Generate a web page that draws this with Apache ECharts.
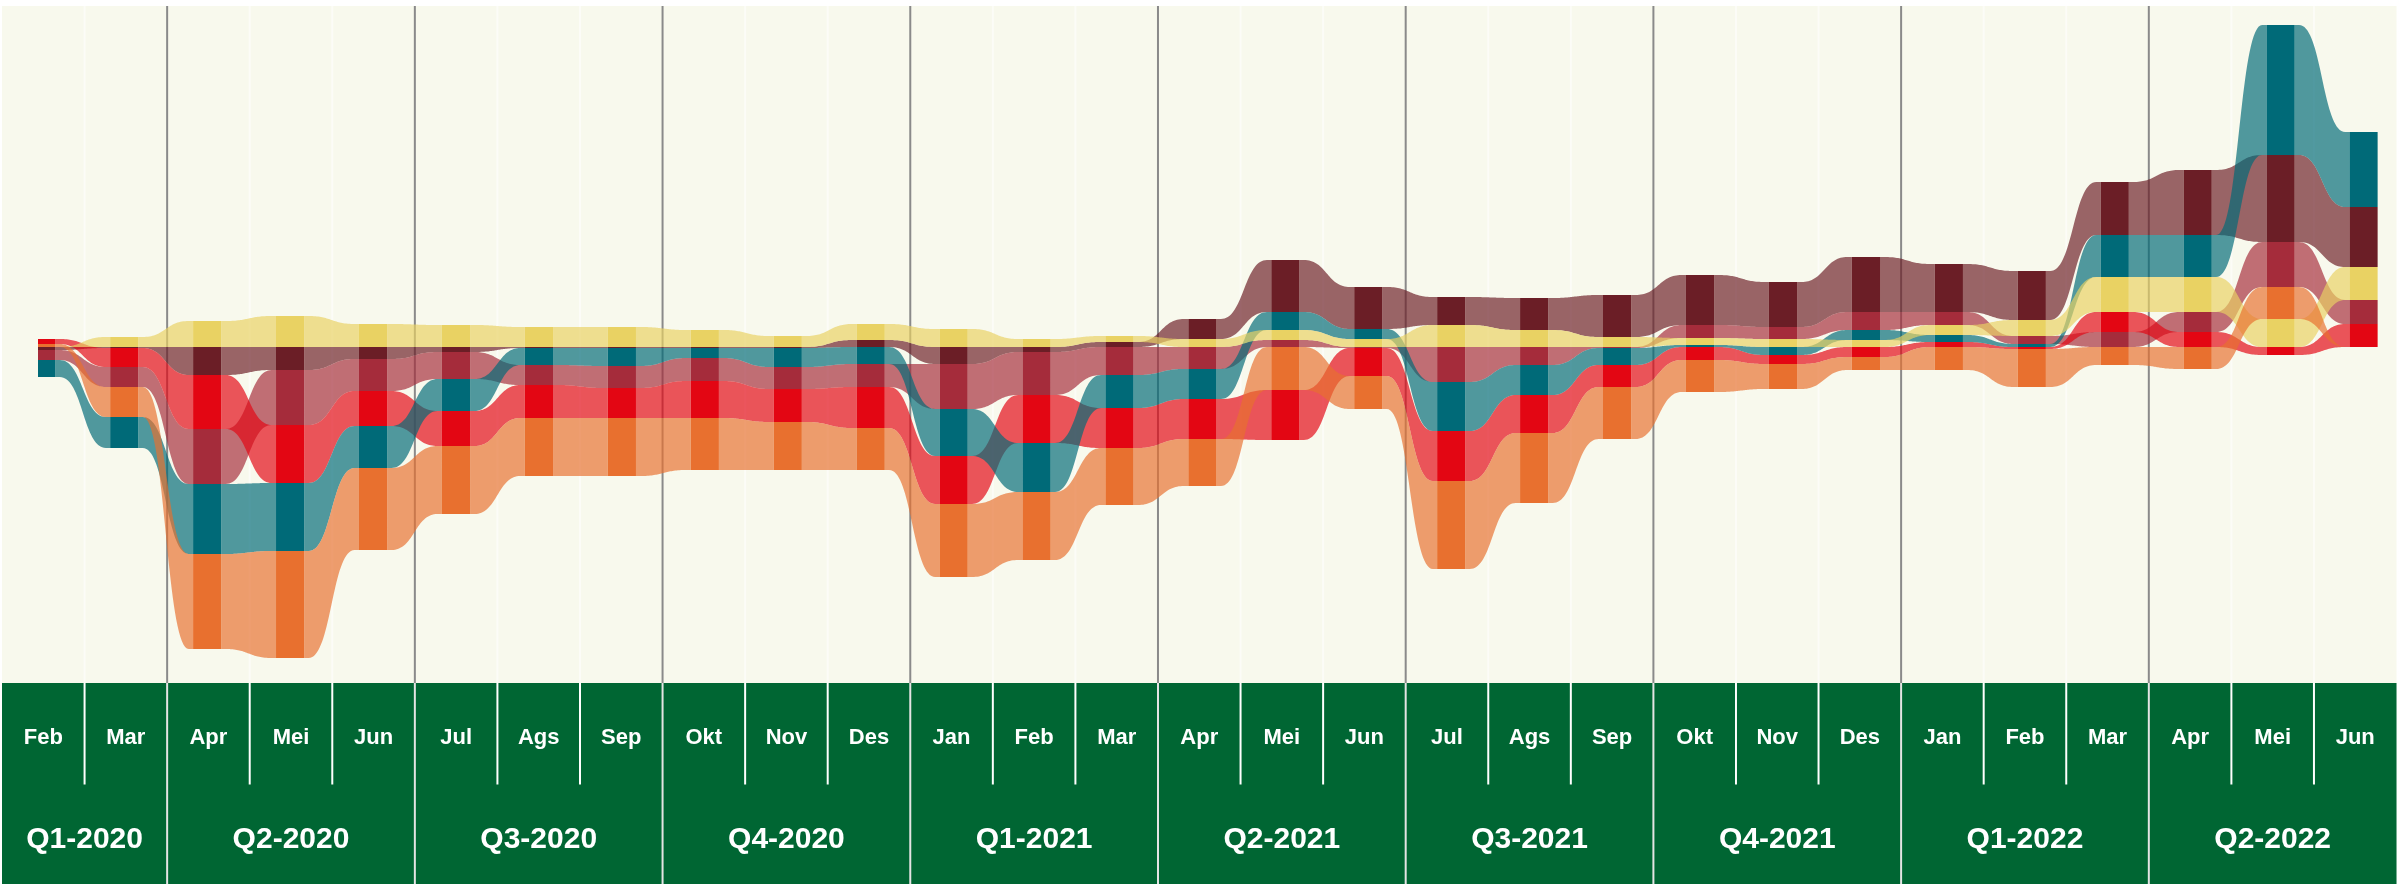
<!DOCTYPE html>
<html>
<head>
<meta charset="utf-8">
<script src="https://cdn.jsdelivr.net/npm/echarts@6/dist/echarts.min.js"></script>
<style>
html,body{margin:0;padding:0;background:#ffffff;}
#chart{width:2405px;height:884px;}
</style>
</head>
<body>
<div id="chart"></div>
<script>
// ---------------- DATA ----------------
const months = ['Feb','Mar','Apr','Mei','Jun','Jul','Ags','Sep','Okt','Nov','Des',
                'Jan','Feb','Mar','Apr','Mei','Jun','Jul','Ags','Sep','Okt','Nov','Des',
                'Jan','Feb','Mar','Apr','Mei','Jun'];
const quarterLabels = ['Q1-2020','Q2-2020','Q3-2020','Q4-2020','Q1-2021','Q2-2021','Q3-2021','Q4-2021','Q1-2022','Q2-2022'];
const quarterStarts = [0, 2, 5, 8, 11, 14, 17, 20, 23, 26];

const seriesNames = ['Komponen 1','Komponen 2','Komponen 3','Komponen 4','Komponen 5','Komponen 6'];

const maroon = [-0.3,-0.1,-2.8,-2.3,-1.2,-0.5,-0.1,-0.1,-0.1,-0.1,0.7,-1.7,-0.5,0.5,2.0,5.2,4.2,2.8,3.2,4.2,5.0,4.5,5.5,4.8,4.9,5.3,6.5,8.7,6.0];
const rose   = [-1.0,-2.0,-5.5,-5.5,-3.2,-2.7,-2.0,-2.2,-2.3,-2.2,-2.3,-4.5,-4.3,-2.8,-2.2,0.7,-0.1,-3.5,-1.8,-0.1,1.3,1.2,1.8,1.3,0.8,1.5,2.0,4.5,2.4];
const red    = [0.5,-1.9,-5.4,-5.8,-3.5,-3.5,-3.3,-3.0,-3.7,-3.3,-4.1,-4.8,-4.8,-4.0,-4.0,-5.0,-2.8,-5.0,-3.8,-2.2,-1.3,-0.9,-1.0,0.5,-0.2,2.0,1.5,-0.8,2.3];
const teal   = [-1.7,-3.1,-7.0,-6.8,-4.2,-3.2,-1.7,-1.8,-1.0,-1.9,-1.7,-4.7,-4.9,-3.3,-3.0,1.8,1.0,-4.9,-3.0,-1.7,0.2,-0.8,1.0,0.7,0.3,4.2,4.2,13.0,7.5];
const yellow = [0,1.0,2.6,3.1,2.3,2.2,2.0,2.0,1.7,1.1,1.6,1.8,0.8,0.6,0.8,1.0,0.8,2.2,1.7,1.0,0.7,0.8,0.7,1.0,1.6,3.5,3.5,2.8,3.3];
const orange = [0.3,-3.0,-9.5,-10.7,-8.2,-6.8,-5.8,-5.8,-5.2,-4.8,-4.2,-7.3,-6.8,-5.7,-4.7,-4.3,-3.3,-8.8,-7.0,-5.2,-3.2,-2.5,-1.3,-2.3,-3.8,-1.8,-2.2,3.2,0];

// ---------------- STYLE ----------------
const seriesColors = ['#6b1e26','#a52c3b','#e30613','#006a78','#e9d263','#e8702f'];
const RIBBON_ALPHA = 0.68;
const BAR_HALF = 0.17;     // half bar width, in month units
const FLAT = 0.08;         // flat share at each end of a ribbon
const STEPS = 36;
const MONTH_FONT = 'bold 22px "Liberation Sans", Arial, Helvetica, sans-serif';
const QUARTER_FONT = 'bold 30px "Liberation Sans", Arial, Helvetica, sans-serif';
const MONTH_ROW_Y = 1.453;
const QUARTER_ROW_Y = 0.44;

const valuesBySeries = [maroon, rose, red, teal, yellow, orange];
const N = months.length;

// stacking per month: positives upward (smallest nearest zero), negatives downward (smallest magnitude nearest zero)
const stackLayout = [];
for (let i = 0; i < N; i++) {
  const vals = valuesBySeries.map(a => a[i]);
  const pos = [], neg = [];
  vals.forEach((v, k) => { (v >= 0 ? pos : neg).push(k); });
  pos.sort((a, b) => vals[a] - vals[b] || a - b);
  neg.sort((a, b) => vals[b] - vals[a] || a - b);
  const band = [];
  let acc = 0;
  pos.forEach(k => { band[k] = [acc, acc + vals[k]]; acc += vals[k]; });
  acc = 0;
  neg.forEach(k => { band[k] = [acc + vals[k], acc]; acc += vals[k]; });
  stackLayout.push(band);
}

function toRgba(hex, a) {
  const n = parseInt(hex.slice(1), 16);
  return 'rgba(' + ((n >> 16) & 255) + ',' + ((n >> 8) & 255) + ',' + (n & 255) + ',' + a + ')';
}

function curve(a, b, out) {
  const dx = b[0] - a[0];
  const xs = a[0] + dx * FLAT, xe = b[0] - dx * FLAT;
  const xm = (xs + xe) / 2;
  out.push([a[0], a[1]]);
  for (let k = 0; k <= STEPS; k++) {
    const t = k / STEPS, u = 1 - t;
    const x = u*u*u*xs + 3*u*u*t*xm + 3*u*t*t*xm + t*t*t*xe;
    const y = (u*u*u + 3*u*u*t) * a[1] + (3*u*t*t + t*t*t) * b[1];
    out.push([x, y]);
  }
  out.push([b[0], b[1]]);
}

function makeRenderer(s) {
  const color = seriesColors[s];
  const ribbonFill = toRgba(color, RIBBON_ALPHA);
  return function (params, api) {
    const i = params.dataIndex;
    const band = stackLayout[i][s];
    const lo = band[0], hi = band[1];
    const children = [];
    if (i < N - 1) {
      const nb = stackLayout[i + 1][s];
      const xa = i + BAR_HALF, xb = i + 1 - BAR_HALF;
      const t0 = api.coord([xa, hi]), b0 = api.coord([xa, lo]);
      const t1 = api.coord([xb, nb[1]]), b1 = api.coord([xb, nb[0]]);
      const top = [], bottom = [];
      curve(t0, t1, top);
      curve(b0, b1, bottom);
      const pts = top.concat(bottom.reverse());
      children.push({ type: 'polygon', shape: { points: pts }, style: { fill: ribbonFill } });
    }
    if (hi - lo > 0) {
      const p = api.coord([i - BAR_HALF, hi]), q = api.coord([i + BAR_HALF, lo]);
      children.push({ type: 'rect', shape: { x: p[0], y: p[1], width: q[0] - p[0], height: q[1] - p[1] }, style: { fill: color } });
    }
    return { type: 'group', children: children };
  };
}

const dataSeries = valuesBySeries.map((vals, s) => ({
  type: 'custom',
  name: seriesNames[s],
  xAxisIndex: 2, yAxisIndex: 2,
  clip: true,
  z: 3,
  silent: true,
  data: vals.map((v, i) => [i, v]),
  encode: { x: 0, y: 1 },
  renderItem: makeRenderer(s)
}));

const monthBoundaries = months.slice(1).map((_, i) => i + 1);

const TABLE_W = 29 * 82.57;
const PLOT_W = 28.54 * 83.09;

const option = {
  backgroundColor: '#ffffff',
  animation: false,
  grid: [
    { left: 2, top: 6, width: TABLE_W, height: 677, show: true, backgroundColor: '#f8f9ed', borderWidth: 0 },
    { left: 2, top: 683, width: TABLE_W, height: 201, show: true, backgroundColor: '#006633', borderWidth: 0 },
    { left: 38, top: 6, width: PLOT_W, height: 677, show: false }
  ],
  xAxis: [
    { gridIndex: 0, type: 'value', min: 0, max: 29, show: false },
    { gridIndex: 1, type: 'value', min: 0, max: 29, show: false },
    { gridIndex: 2, type: 'value', min: -0.04, max: 28.5, show: false }
  ],
  yAxis: [
    { gridIndex: 0, type: 'value', min: 0, max: 1, show: false },
    { gridIndex: 1, type: 'value', min: 0, max: 2, show: false },
    { gridIndex: 2, type: 'value', min: -33.6, max: 34.1, show: false }
  ],
  series: [
    {
      type: 'custom', name: 'grid-lines', xAxisIndex: 0, yAxisIndex: 0, z: 1, silent: true,
      data: monthBoundaries.map(k => [k, 0]), encode: { x: 0, y: 1 },
      renderItem: function (params, api) {
        const k = monthBoundaries[params.dataIndex];
        const x = api.coord([k, 0])[0];
        const cs = params.coordSys;
        const isQ = quarterStarts.indexOf(k) >= 0;
        return { type: 'line', shape: { x1: x, y1: cs.y, x2: x, y2: cs.y + cs.height },
                 style: { stroke: isQ ? '#8a8a8a' : 'rgba(255,255,255,0.55)', lineWidth: 2 } };
      }
    },
    {
      type: 'custom', name: 'months', xAxisIndex: 1, yAxisIndex: 1, z: 2, silent: true,
      data: months.map((m, i) => [i, MONTH_ROW_Y]), encode: { x: 0, y: 1 },
      renderItem: function (params, api) {
        const i = params.dataIndex;
        const c = api.coord([i + 0.5, MONTH_ROW_Y]);
        const children = [{ type: 'text', x: c[0], y: c[1],
          style: { text: months[i], fill: '#ffffff', font: MONTH_FONT, align: 'center', verticalAlign: 'middle' } }];
        if (i > 0 && quarterStarts.indexOf(i) < 0) {
          const a = api.coord([i, 2]), b = api.coord([i, 0.99]);
          children.push({ type: 'line', shape: { x1: a[0], y1: a[1], x2: b[0], y2: b[1] }, style: { stroke: '#ffffff', lineWidth: 2 } });
        }
        return { type: 'group', children: children };
      }
    },
    {
      type: 'custom', name: 'quarters', xAxisIndex: 1, yAxisIndex: 1, z: 2, silent: true,
      data: quarterLabels.map((q, j) => [quarterStarts[j], QUARTER_ROW_Y]), encode: { x: 0, y: 1 },
      renderItem: function (params, api) {
        const j = params.dataIndex;
        const start = quarterStarts[j];
        const end = j + 1 < quarterStarts.length ? quarterStarts[j + 1] : N;
        const c = api.coord([(start + end) / 2, QUARTER_ROW_Y]);
        const children = [{ type: 'text', x: c[0], y: c[1],
          style: { text: quarterLabels[j], fill: '#ffffff', font: QUARTER_FONT, align: 'center', verticalAlign: 'middle' } }];
        if (start > 0) {
          const a = api.coord([start, 2]), b = api.coord([start, 0]);
          children.push({ type: 'line', shape: { x1: a[0], y1: a[1], x2: b[0], y2: b[1] }, style: { stroke: '#e4e4e4', lineWidth: 2 } });
        }
        return { type: 'group', children: children };
      }
    }
  ].concat(dataSeries)
};

const chart = echarts.init(document.getElementById('chart'), null, { renderer: 'canvas', width: 2405, height: 884 });
chart.setOption(option);
</script>
</body>
</html>
